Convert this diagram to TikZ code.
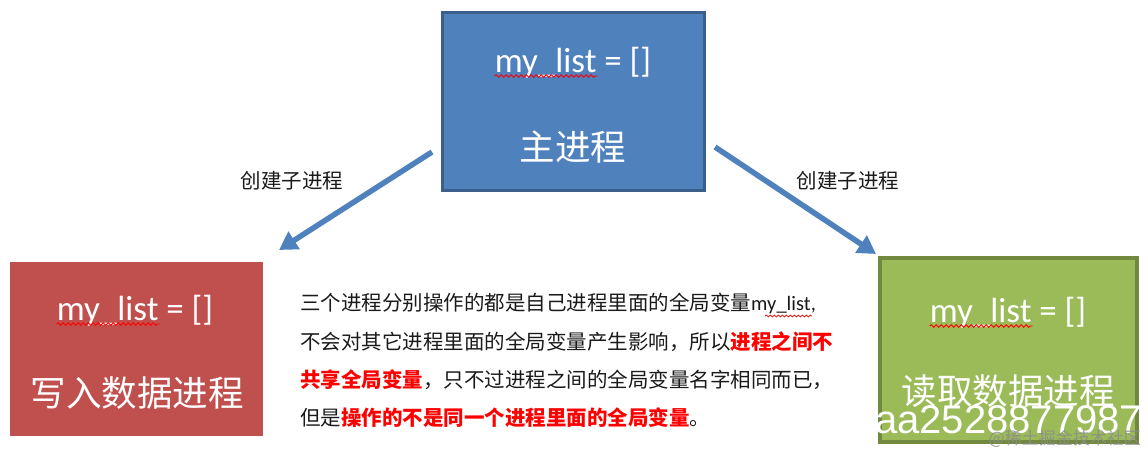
\documentclass[tikz,border=0pt]{standalone}
\usepackage{fontspec}
\setmainfont{Carlito}
\newfontfamily\cjk{Noto Sans CJK SC}
\newfontfamily\arialf{Liberation Sans}
\usetikzlibrary{decorations.pathmorphing,shadows,arrows.meta}
\definecolor{mblue}{HTML}{4F81BD}
\definecolor{mblueb}{HTML}{3A5F8B}
\definecolor{mred}{HTML}{C0504D}
\definecolor{mgreen}{HTML}{9BBB59}
\definecolor{mgreenb}{HTML}{71893F}
\definecolor{wred}{HTML}{FF0000}
\definecolor{txt}{HTML}{1A1A1A}
\begin{document}
\begin{tikzpicture}[x=1pt,y=-1pt,
  boxtext/.style={text=white,inner sep=0pt,anchor=base},
  codetext/.style={boxtext,font=\fontsize{35}{38}\selectfont},
  cjktext/.style={boxtext,font=\cjk\fontsize{35.5}{40}\selectfont},
  paraline/.style={anchor=base west,inner sep=0pt,text=txt,font=\cjk\fontsize{20.5}{24}\selectfont},
  arrowlabel/.style={inner sep=0pt,text=txt,font=\cjk\fontsize{20.5}{24}\selectfont},
  bigarrow/.style={draw=mblue,line width=5.5pt,-{Triangle[length=18pt,width=20pt]}},
  squiggle/.style={draw=red,line width=0.9pt,decorate,decoration={snake,amplitude=1.3pt,segment length=5pt}}]
\useasboundingbox (0,0) rectangle (1148,452);

% boxes
\node[draw=mblueb,fill=mblue,line width=3pt,minimum width=262pt,minimum height=178pt,inner sep=0pt] (main) at (573.5,101.5) {};
\node[draw=white,fill=mred,line width=7pt,minimum width=260pt,minimum height=181pt,inner sep=0pt,
  drop shadow={shadow xshift=1.5pt,shadow yshift=-2pt,opacity=0.4,fill=black}] (writer) at (136.5,349) {};
\node[draw=mgreenb,fill=mgreen,line width=4pt,minimum width=257pt,minimum height=184pt,inner sep=0pt] (reader) at (1008.5,350) {};

% box texts
\node[codetext] (mcode) at (573,72) {my\_list = []};
\node[cjktext] (mname) at (573,160) {主进程};
\node[codetext] (wcode) at (135,320) {my\_list = []};
\node[cjktext] (wname) at (137,406) {写入数据进程};
\node[codetext] (rcode) at (1008,322) {my\_list = []};
\node[cjktext] (rname) at (1008,404) {读取数据进程};

% squiggles under my_list
\foreach \n in {mcode,wcode,rcode}{
  \draw[squiggle] ([yshift=-4pt]\n.base west) -- ++(103,0);
}

% arrows
\coordinate (la) at (432,152);
\coordinate (lb) at (279,250);
\coordinate (ra) at (715,147);
\coordinate (rb) at (876,254);
\draw[bigarrow] (la) -- (lb);
\draw[bigarrow] (ra) -- (rb);
\node[arrowlabel] (llab) at (292,181) {创建子进程};
\node[arrowlabel] (rlab) at (848,181) {创建子进程};

% paragraph
\node[paraline] (p1) at (300,310) {三个进程分别操作的都是自己进程里面的全局变量{\rmfamily my\_list,}};
\draw[squiggle,line width=0.7pt,decoration={snake,amplitude=1pt,segment length=4pt}] (765,316) -- (812,316);
\node[paraline] (p2) at (300,349) {不会对其它进程里面的全局变量产生影响，所以{\color{wred}\bfseries 进程之间不}};
\node[paraline] (p3) at (300,387) {{\color{wred}\bfseries 共享全局变量}，只不过进程之间的全局变量名字相同而已，};
\node[paraline] (p4) at (300,425) {但是{\color{wred}\bfseries 操作的不是同一个进程里面的全局变量}。};

% watermark
\node[anchor=base west,inner sep=0pt,text=white,font=\arialf\fontsize{40}{44}\selectfont] (wm) at (875,433) {aa2528877987};
\node[anchor=base east,inner sep=0pt,text=black!45,opacity=0.85,font=\cjk\fontsize{17}{20}\selectfont] (wm2) at (1141,444) {@稀土掘金技术社区};
\end{tikzpicture}
\end{document}
